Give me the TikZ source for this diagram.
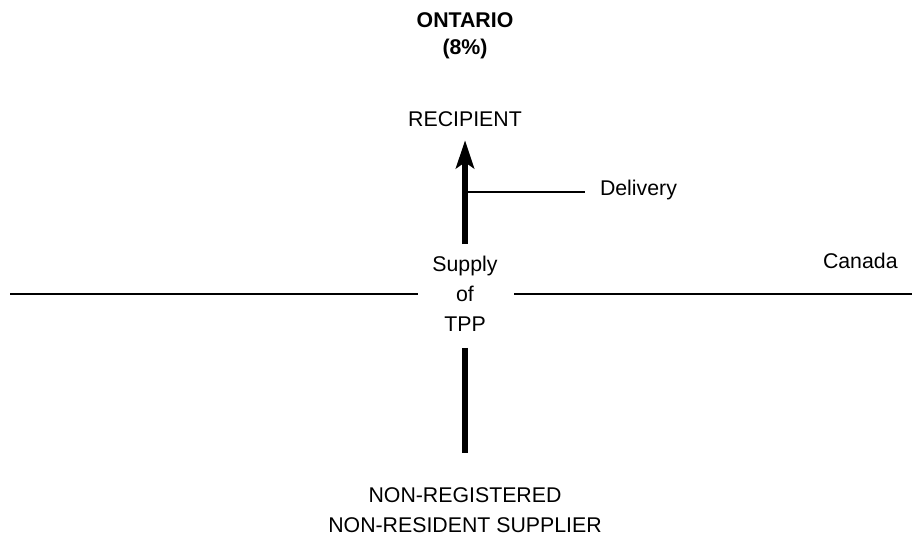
\documentclass[tikz,border=0pt]{standalone}
\usepackage{fontspec}
\setmainfont{Liberation Sans}
\usetikzlibrary{arrows.meta}
\begin{document}
\begin{tikzpicture}[x=1pt,y=-1pt,
  lbl/.style={inner sep=0pt,outer sep=0pt,align=center,font=\fontsize{21.3}{30}\selectfont},
  title/.style={lbl,font=\fontsize{21.3}{27}\selectfont\bfseries},
  flow/.style={line width=6pt},
  border/.style={line width=2.6pt},
  tick/.style={line width=2pt}]
  % canvas
  \fill[white] (0,0) rectangle (912,540);
  \useasboundingbox (0,0) rectangle (912,540);

  % labels
  \node[title,anchor=north] (prov) at (465,12.5) {ONTARIO\\(8\%)};
  \node[lbl,anchor=base] (recipient) at (465,127) {RECIPIENT};
  \node[lbl,anchor=north] (supply) at (465,256.5) {Supply\\of\\TPP};
  \node[lbl,anchor=north] (supplier) at (465,488) {NON-REGISTERED\\NON-RESIDENT SUPPLIER};
  \node[lbl,anchor=base west] (delivery) at (600,195) {Delivery};
  \node[lbl,anchor=base west] (canada) at (823,268) {Canada};

  % border line
  \coordinate (westend) at (10,294);
  \coordinate (eastend) at (912,294);
  \draw[border,shorten >=14.5pt] (westend) -- (westend -| supply.west);
  \draw[border,shorten <=16.5pt] (eastend -| supply.east) -- (eastend);

  % supply flow
  \draw[flow,shorten <=12.5pt,shorten >=13pt,
        -{Stealth[length=28pt,width=18pt,inset=6pt]}]
       (supply.north) -- (recipient.south);
  \draw[flow,shorten <=16pt,shorten >=35pt] (supply.south) -- (supplier.north);

  % delivery tick
  \coordinate (tap) at (465,192);
  \draw[tick,shorten >=15pt] (tap) -- (tap -| delivery.west);
\end{tikzpicture}
\end{document}
